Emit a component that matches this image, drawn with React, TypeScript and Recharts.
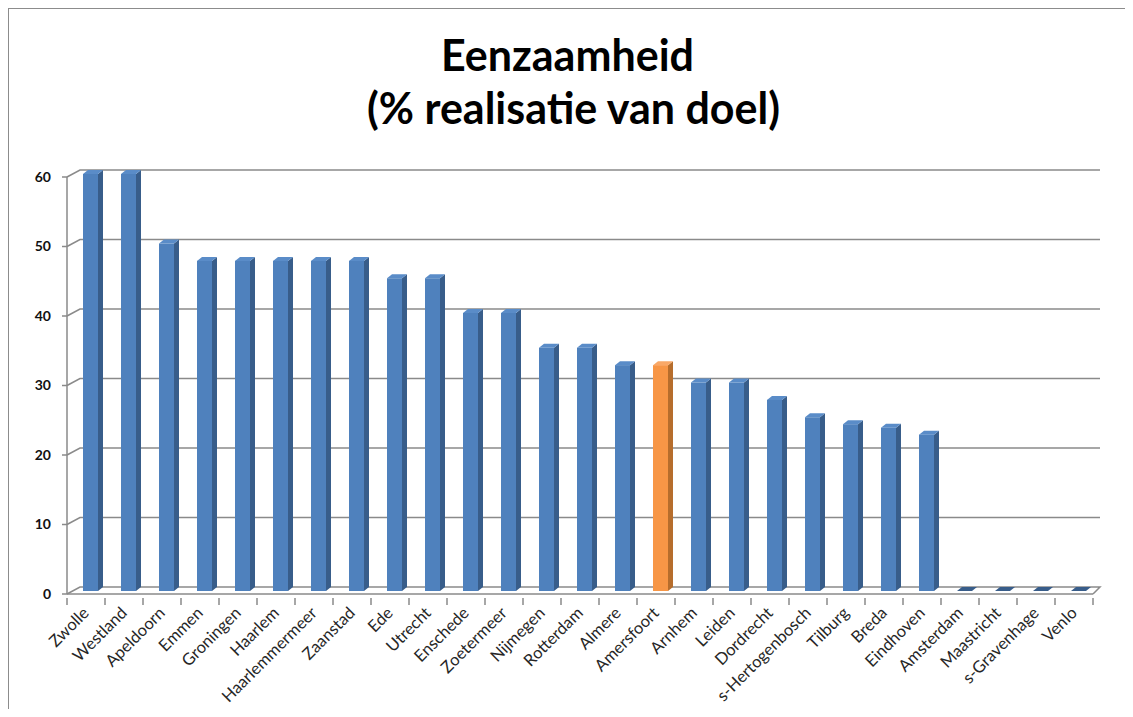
import { BarChart, Bar, XAxis, YAxis, CartesianGrid, Cell } from "recharts";

const categories = [
  "Zwolle", "Westland", "Apeldoorn", "Emmen", "Groningen", "Haarlem", "Haarlemmermeer",
  "Zaanstad", "Ede", "Utrecht", "Enschede", "Zoetermeer", "Nijmegen", "Rotterdam",
  "Almere", "Amersfoort", "Arnhem", "Leiden", "Dordrecht", "s-Hertogenbosch", "Tilburg",
  "Breda", "Eindhoven", "Amsterdam", "Maastricht", "s-Gravenhage", "Venlo",
];
const values = [
  60, 60, 50, 47.5, 47.5, 47.5, 47.5, 47.5, 45, 45, 40, 40, 35, 35, 32.5, 32.5, 30, 30,
  27.5, 25, 24, 23.5, 22.5, 0, 0, 0, 0,
];
const yTicks = [0, 10, 20, 30, 40, 50, 60];
const highlighted = "Amersfoort";

const data = categories.map((name, i) => ({ name, value: values[i] }));

const FONT = "Lato, 'Open Sans', sans-serif";
const GRID = "#8a8a8a";
const BLUE = { front: "#4f81bd", side: "#385d8a", top: "#5a8cc8" };
const ORANGE = { front: "#f79646", side: "#b66d2c", top: "#f9a867" };

// back wall offset and bar depth for the fake 3D look
const WALL_DX = 13;
const WALL_DY = -7;
const WALL_DX_RIGHT = 7;
const DEPTH_X = 5;
const DEPTH_Y = -4;

function Bar3D(props: any) {
  const { x, y, width, height, fill } = props;
  const c = fill === ORANGE.front ? ORANGE : BLUE;
  const ox = x + 4;
  const oy = y - 3;
  const w = width;
  const h = height;
  return (
    <g>
      {h > 0 && <rect x={ox} y={oy} width={w} height={h} fill={c.front} />}
      {h > 0 && (
        <polygon
          points={`${ox + w},${oy} ${ox + w + DEPTH_X},${oy + DEPTH_Y} ${ox + w + DEPTH_X},${oy + h + DEPTH_Y} ${ox + w},${oy + h}`}
          fill={c.side}
        />
      )}
      <polygon
        points={`${ox},${oy} ${ox + DEPTH_X},${oy + DEPTH_Y} ${ox + w + DEPTH_X},${oy + DEPTH_Y} ${ox + w},${oy}`}
        fill={h > 0 ? c.top : c.side}
      />
    </g>
  );
}

function GridLine(props: any) {
  const { x1, y1, x2, y, height, index } = props;
  const floor = Math.abs(y1 - (y + height)) < 1;
  const pts = `${x1},${y1} ${x1 + WALL_DX},${y1 + WALL_DY} ${x2 + WALL_DX_RIGHT},${y1 + WALL_DY}${
    floor ? ` ${x2},${y1}` : ""
  }`;
  return <polyline key={`g-${index}`} points={pts} fill="none" stroke={GRID} strokeWidth={1.5} />;
}

function CategoryTick(props: any) {
  const { x, y, payload, index } = props;
  const half = 1026 / categories.length / 2;
  return (
    <g>
      <line x1={x - half} y1={y - 4} x2={x - half} y2={y + 3} stroke={GRID} strokeWidth={1.5} />
      {index === categories.length - 1 && (
        <line x1={x + half} y1={y - 4} x2={x + half} y2={y + 3} stroke={GRID} strokeWidth={1.5} />
      )}
      <g transform={`translate(${x + 4},${y + 12}) rotate(-45)`}>
        <text x={0} y={0} textAnchor="end" fontSize={16.5} fontFamily={FONT} fill="#262626">
          {payload.value}
        </text>
      </g>
    </g>
  );
}

export default function App() {
  return (
    <div
      style={{
        position: "relative",
        width: 1117,
        height: 700,
        borderTop: "1px solid #8c8c8c",
        borderLeft: "1px solid #8c8c8c",
        background: "#fff",
      }}
    >
      <div
        style={{
          position: "absolute",
          top: 19,
          left: 0,
          width: "100%",
          textAlign: "center",
          fontFamily: FONT,
          fontWeight: 700,
          fontSize: 43,
          lineHeight: "53px",
          color: "#000",
        }}
      >
        <div>Eenzaamheid</div>
        <div style={{ paddingLeft: 12 }}>(% realisatie van doel)</div>
      </div>
      <BarChart
        width={1116}
        height={700}
        data={data}
        margin={{ top: 168, right: 32, bottom: 15, left: 0 }}
        barCategoryGap={0}
      >
        <CartesianGrid vertical={false} horizontal={GridLine} />
        <XAxis
          dataKey="name"
          interval={0}
          height={100}
          tick={CategoryTick}
          tickLine={false}
          axisLine={{ stroke: GRID, strokeWidth: 1.5 }}
        />
        <YAxis
          domain={[0, 60]}
          ticks={yTicks}
          width={58}
          tickSize={5}
          tickLine={{ stroke: GRID, strokeWidth: 1.5 }}
          axisLine={{ stroke: GRID, strokeWidth: 1.5 }}
          tick={{ fontSize: 14, fontWeight: 700, fill: "#111", fontFamily: FONT, dx: -9 }}
        />
        <Bar dataKey="value" barSize={15} shape={Bar3D} isAnimationActive={false}>
          {data.map((d) => (
            <Cell key={d.name} fill={d.name === highlighted ? ORANGE.front : BLUE.front} />
          ))}
        </Bar>
      </BarChart>
    </div>
  );
}
